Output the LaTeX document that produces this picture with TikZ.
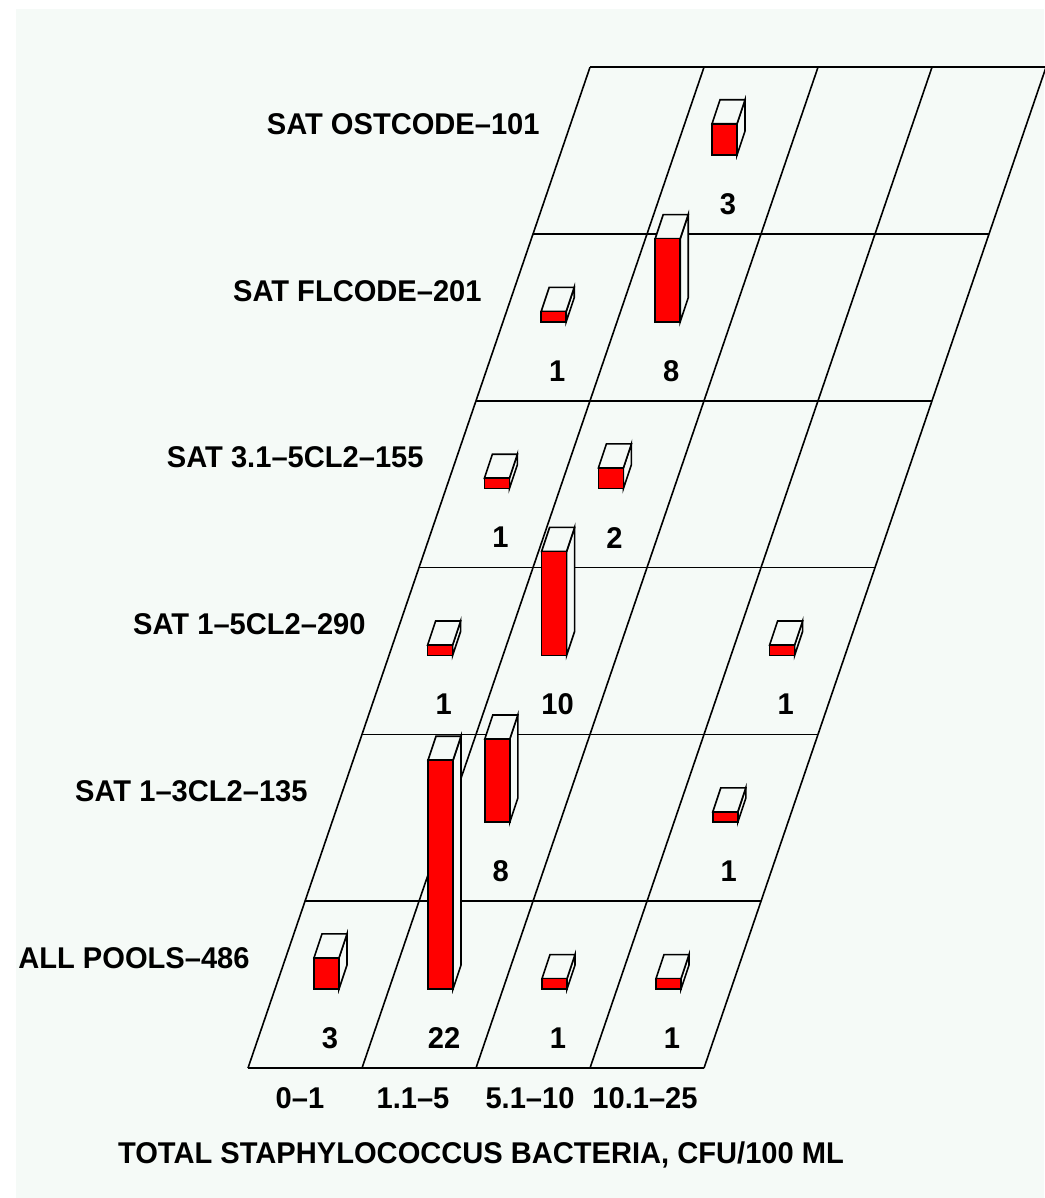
\documentclass[tikz,border=0pt]{standalone}
\usepackage{fontspec}
\setmainfont[FakeStretch=0.97]{Liberation Sans}
\definecolor{paper}{HTML}{F5FAF7}
\definecolor{barred}{HTML}{FF0000}

\begin{document}
\begin{tikzpicture}[x=0.5pt,y=-0.5pt,
    gridline/.style={line width=0.8pt},
    face/.style={draw=black, line width=0.8pt, fill=paper},
    front/.style={draw=black, line width=0.8pt, fill=barred},
    lbl/.style={font=\fontsize{15}{16}\selectfont\bfseries, inner sep=0pt}]
    \useasboundingbox (0,0) rectangle (1044,1198);
    % background
    \fill[paper] (16,9) rectangle (1044,1198);

    % Grid rows and skewed columns
    \foreach \r in {0,...,6}
        \draw[gridline] ({248+57*\r},{1068-166.8*\r}) -- ++(456,0);
    \foreach \c in {0,...,4}
        \draw[gridline] ({248+114*\c},1068) -- ({590+114*\c},67.2);

    % Bars, back to front (row/column/count)
    \foreach \r/\c/\n in {5/1/3, 4/0/1, 4/1/8, 3/0/1, 3/1/2, 2/0/1, 2/1/10, 2/3/1,
                          1/1/8, 1/3/1, 0/0/3, 0/1/22, 0/2/1, 0/3/1} {
        \pgfmathsetmacro\bx{314+114*\c+56.8*\r}
        \pgfmathsetmacro\by{989-166.8*\r}
        \pgfmathsetmacro\bh{10.4*\n}
        \draw[face] ({\bx+25},\by) -- ++(8,-24) -- ++(0,-\bh) -- ++(-8,24) -- cycle; % side
        \draw[face] (\bx,{\by-\bh}) -- ++(25,0) -- ++(8,-24) -- ++(-25,0) -- cycle; % top
        \draw[front] (\bx,\by) rectangle ({\bx+25},{\by-\bh});
        \node[lbl] (cnt\r\c) at ({\bx+16},{\by+49}) {\n};
    }

    % Row labels
    \foreach \r/\t in {0/ALL POOLS--486, 1/SAT 1--3CL2--135, 2/SAT 1--5CL2--290,
                       3/SAT 3.1--5CL2--155, 4/SAT FLCODE--201, 5/SAT OSTCODE--101}
        \node[lbl, anchor=east] (row\r) at ({250+58*\r},{958-166.8*\r}) {\t};

    % Column labels and axis title
    \node[lbl] (col0) at (300,1098) {0--1};
    \node[lbl] (col1) at (413,1098) {1.1--5};
    \node[lbl] (col2) at (530,1098) {5.1--10};
    \node[lbl] (col3) at (645,1098) {10.1--25};
    \node[lbl] (title) at (481,1155) {TOTAL STAPHYLOCOCCUS BACTERIA, CFU/100 ML};
\end{tikzpicture}
\end{document}
